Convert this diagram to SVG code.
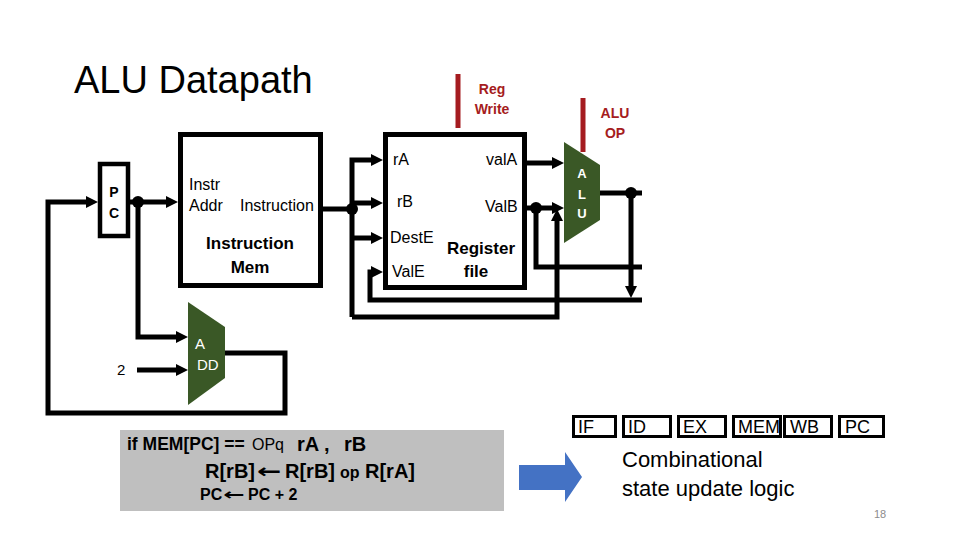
<svg xmlns="http://www.w3.org/2000/svg" width="960" height="540" viewBox="0 0 960 540">
<defs>
<marker id="arr" viewBox="0 0 12 12" markerWidth="12" markerHeight="12" refX="2" refY="6" orient="auto" markerUnits="userSpaceOnUse">
<path d="M0,0 L12,6 L0,12 z" fill="#000"/>
</marker>
<style>
text{font-family:"Liberation Sans",Arial,sans-serif;fill:#000}
.w{fill:none;stroke:#000;stroke-width:5;stroke-linejoin:miter}
.a{marker-end:url(#arr)}
.box{fill:#fff;stroke:#000;stroke-width:5}
.stg{fill:#fff;stroke:#000;stroke-width:3}
.lbl{font-size:16px}
.red{fill:#a51c20;font-weight:bold;font-size:14px}
.unit{fill:#3a5826}
.wt{fill:#fff}
.st{font-size:18px}
.dot{fill:#000}
.arrow{font-family:"DejaVu Sans",sans-serif;font-weight:bold}
</style>
</defs>
<rect width="960" height="540" fill="#fff"/>
<text x="74" y="93" font-size="38">ALU Datapath</text>

<g id="connectors">
<path class="w a" d="M225,353 H285 V413 H48 V202 H88"/>
<path class="w a" d="M130,202 H168"/>
<path class="w a" d="M138,202 V337 H178"/>
<path class="w a" d="M137,370 H178"/>
<path class="w" d="M323,209 H352"/>
<path class="w a" d="M352,317 V160 H373"/>
<path class="w a" d="M352,317 H557 V219"/>
<path class="w a" d="M352,203 H373"/>
<path class="w a" d="M352,238 H373"/>
<path class="w a" d="M642,300 H370 V272 H373"/>
<path class="w" d="M600,193 H642"/>
<path class="w a" d="M631,193 V288"/>
<path class="w a" d="M527,163 H554"/>
<path class="w a" d="M527,208 H554"/>
<path class="w" d="M536,208 V267 H642"/>
<circle class="dot" cx="138" cy="202" r="6"/>
<circle class="dot" cx="352" cy="209" r="6"/>
<circle class="dot" cx="536" cy="208" r="6"/>
<circle class="dot" cx="631" cy="193" r="6"/>
</g>

<g id="pc">
<rect x="100" y="164" width="28" height="72" fill="#fff" stroke="#000" stroke-width="4.5"/>
<text x="114" y="197" font-size="14" font-weight="bold" text-anchor="middle">P</text>
<text x="114" y="218" font-size="14" font-weight="bold" text-anchor="middle">C</text>
</g>

<g id="imem">
<rect class="box" x="180.5" y="134.5" width="140" height="151"/>
<text class="lbl" x="189" y="190">Instr</text>
<text class="lbl" x="189" y="211">Addr</text>
<text class="lbl" x="240" y="211">Instruction</text>
<text x="250" y="249" font-size="17" font-weight="bold" text-anchor="middle">Instruction</text>
<text x="250" y="273" font-size="17" font-weight="bold" text-anchor="middle">Mem</text>
</g>

<g id="add">
<polygon class="unit" points="188,302 225,327 225,378 188,405"/>
<text class="wt" x="195" y="349" font-size="15">A</text>
<text class="wt" x="197" y="370" font-size="15">DD</text>
</g>
<text x="117" y="375" font-size="15">2</text>

<g id="regfile">
<rect class="box" x="385.5" y="134.5" width="139" height="153"/>
<text class="lbl" x="393" y="165">rA</text>
<text class="lbl" x="486" y="165">valA</text>
<text class="lbl" x="397" y="207">rB</text>
<text class="lbl" x="485" y="212">ValB</text>
<text class="lbl" x="390" y="243">DestE</text>
<text class="lbl" x="392" y="277">ValE</text>
<text x="481" y="254" font-size="17" font-weight="bold" text-anchor="middle">Register</text>
<text x="476" y="277" font-size="17" font-weight="bold" text-anchor="middle">file</text>
</g>

<g id="regwrite">
<rect x="455.5" y="74" width="5" height="54" fill="#a51c20"/>
<text class="red" x="492" y="94" text-anchor="middle">Reg</text>
<text class="red" x="492" y="114" text-anchor="middle">Write</text>
</g>

<g id="aluop">
<rect x="580.5" y="98" width="5" height="54" fill="#a51c20"/>
<text class="red" x="615" y="118" text-anchor="middle">ALU</text>
<text class="red" x="615" y="138" text-anchor="middle">OP</text>
</g>

<g id="alu">
<polygon class="unit" points="564,142 600,165 600,220 564,243"/>
<text class="wt" x="582" y="178" font-size="13" font-weight="bold" text-anchor="middle">A</text>
<text class="wt" x="582" y="199" font-size="13" font-weight="bold" text-anchor="middle">L</text>
<text class="wt" x="582" y="218" font-size="13" font-weight="bold" text-anchor="middle">U</text>
</g>

<g id="code">
<rect x="120" y="430" width="384" height="81" fill="#bfbfbf"/>
<text x="127" y="450" font-size="17.5" font-weight="bold">if MEM[PC] ==</text>
<text x="252" y="450" font-size="16">OPq</text>
<text x="297" y="451" font-size="20" font-weight="bold">rA ,</text>
<text x="344" y="451" font-size="20" font-weight="bold">rB</text>
<text x="205" y="478" font-size="20" font-weight="bold">R[rB]</text>
<text class="arrow" transform="translate(257,478) scale(1.45,1)" font-size="20">←</text>
<text x="285" y="478" font-size="20" font-weight="bold">R[rB]</text>
<text x="340" y="478" font-size="16" font-weight="bold">op</text>
<text x="365" y="478" font-size="20" font-weight="bold">R[rA]</text>
<text x="200" y="500" font-size="16" font-weight="bold">PC</text>
<text class="arrow" transform="translate(223,500) scale(1.6,1)" font-size="16">←</text>
<text x="248" y="500" font-size="16" font-weight="bold">PC + 2</text>
</g>

<g id="bigarrow">
<polygon points="519,465 565,465 565,452 582,477 565,502 565,490 519,490" fill="#4472c4"/>
</g>

<g id="stages">
<rect class="stg" x="573.5" y="416.5" width="42" height="20"/>
<text class="st" x="578" y="433">IF</text>
<rect class="stg" x="623.5" y="416.5" width="47" height="20"/>
<text class="st" x="628" y="433">ID</text>
<rect class="stg" x="678.5" y="416.5" width="47" height="20"/>
<text class="st" x="683" y="433">EX</text>
<rect class="stg" x="733.5" y="416.5" width="47" height="20"/>
<text class="st" x="738" y="433">MEM</text>
<rect class="stg" x="784.5" y="416.5" width="47" height="20"/>
<text class="st" x="790" y="433">WB</text>
<rect class="stg" x="839.5" y="416.5" width="44" height="20"/>
<text class="st" x="845" y="433">PC</text>
</g>

<text x="622" y="467" font-size="22">Combinational</text>
<text x="622" y="496" font-size="22">state update logic</text>
<text x="874" y="518" font-size="11" style="fill:#8c8c8c">18</text>
</svg>
